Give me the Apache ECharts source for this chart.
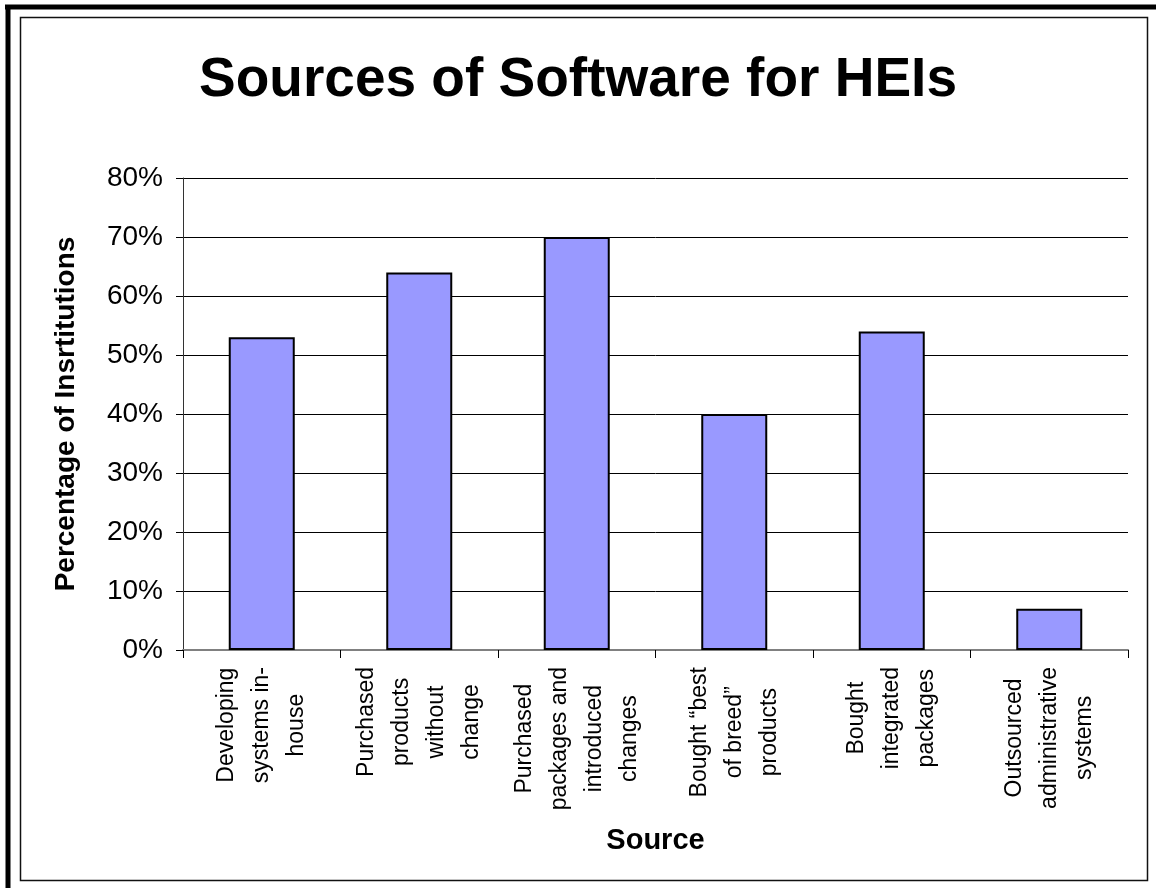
<!DOCTYPE html>
<html>
<head>
<meta charset="utf-8">
<script src="https://cdn.jsdelivr.net/npm/echarts@6/dist/echarts.min.js"></script>
<style>
  html, body { margin: 0; padding: 0; background: #fff; }
  #chart { width: 1156px; height: 888px; }
</style>
</head>
<body>
<div id="chart"></div>
<script>
// data
const categories = [
  ['Developing', 'systems in-', 'house'],
  ['Purchased', 'products', 'without', 'change'],
  ['Purchased', 'packages and', 'introduced', 'changes'],
  ['Bought \u201cbest', 'of breed\u201d', 'products'],
  ['Bought', 'integrated', 'packages'],
  ['Outsourced', 'administrative', 'systems']
];
const values = [53, 64, 70, 40, 54, 7];
const yTicks = [0, 10, 20, 30, 40, 50, 60, 70, 80];

const font = '"Liberation Sans", Arial, sans-serif';
const chart = echarts.init(document.getElementById('chart'));

const option = {
  backgroundColor: '#fff',
  animation: false,
  title: {
    text: 'Sources of Software for HEIs',
    left: 'center',
    top: 48,
    textStyle: { fontFamily: font, fontSize: 55, fontWeight: 'bold', color: '#000' }
  },
  grid: { left: 183, right: 28, top: 178, bottom: 238 },
  xAxis: {
    type: 'category',
    data: categories.map(c => c.join('\n')),
    name: 'Source',
    nameLocation: 'middle',
    nameGap: 176,
    nameTextStyle: { fontFamily: font, fontSize: 29, fontWeight: 'bold', color: '#000' },
    axisLine: { lineStyle: { color: '#808080', width: 2 } },
    axisTick: { show: true, length: 8, lineStyle: { color: '#000' } },
    axisLabel: {
      interval: 0,
      rotate: 90,
      margin: 17,
      formatter: v => v.split('\n').map(s => '{c|' + s + '}').join('\n'),
      rich: {
        c: { align: 'center', fontFamily: font, fontSize: 23, lineHeight: 35, color: '#000' }
      }
    }
  },
  yAxis: {
    type: 'value',
    min: yTicks[0],
    max: yTicks[yTicks.length - 1],
    interval: 10,
    name: 'Percentage of Insrtitutions',
    nameLocation: 'middle',
    nameRotate: 90,
    nameGap: 103,
    nameTextStyle: { fontFamily: font, fontSize: 28, fontWeight: 'bold', color: '#000' },
    axisLine: { show: true, lineStyle: { color: '#333', width: 1 } },
    axisTick: { show: true, length: 7, lineStyle: { color: '#000' } },
    axisLabel: {
      margin: 20,
      formatter: '{value}%',
      fontFamily: font,
      fontSize: 28,
      color: '#000'
    },
    splitLine: { show: true, lineStyle: { color: '#000', width: 1 } }
  },
  series: [{
    type: 'bar',
    data: values,
    barWidth: 66,
    itemStyle: { color: '#9999ff', borderColor: '#000', borderWidth: 2 }
  }],
  graphic: [
    // inner frame
    { type: 'rect', shape: { x: 20.5, y: 17.5, width: 1127, height: 863 },
      style: { fill: null, stroke: '#111', lineWidth: 1.5 }, silent: true },
    // thick outer lines on the left and top
    { type: 'line', shape: { x1: 8, y1: 5, x2: 8, y2: 888 },
      style: { stroke: '#000', lineWidth: 5 }, silent: true },
    { type: 'line', shape: { x1: 5, y1: 7, x2: 1156, y2: 7 },
      style: { stroke: '#000', lineWidth: 5 }, silent: true }
  ]
};
chart.setOption(option);
</script>
</body>
</html>
